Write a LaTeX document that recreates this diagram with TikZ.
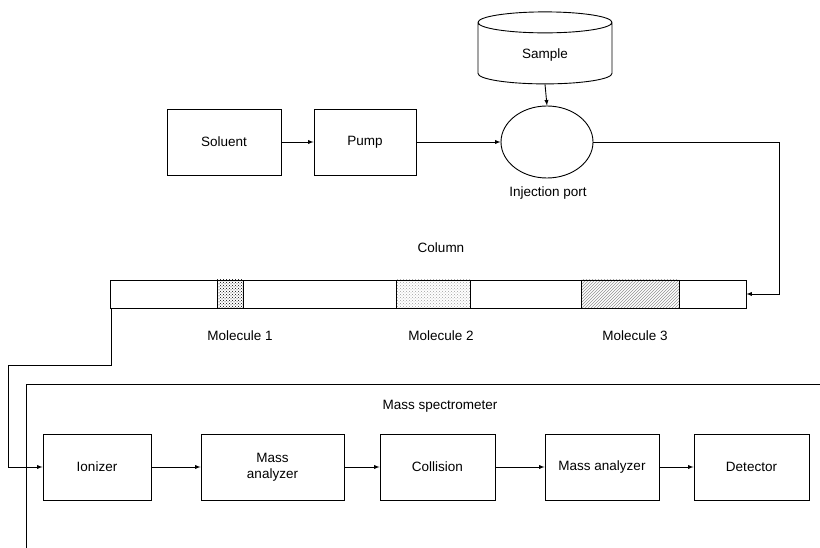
\documentclass[tikz,border=0pt]{standalone}
\usepackage{fontspec}
\setmainfont{Liberation Sans}
\usepackage{tikz}
\usetikzlibrary{shapes.geometric}
\usetikzlibrary{patterns}
\usetikzlibrary{arrows}
\tikzset{>=latex}
\tikzstyle{block} = [draw, rectangle, minimum height=66pt, minimum width=114pt]
\tikzstyle{port} = [draw, ellipse, minimum width=92pt, minimum height=72pt, inner sep=0pt]
\tikzstyle{drum} = [draw, cylinder, shape border rotate=90, aspect=0.4,
    minimum width=134pt, minimum height=72pt]
\tikzstyle{patch} = [draw, rectangle, minimum height=28pt, pattern color=gray]
\tikzstyle{tag} = [inner sep=0pt]

\begin{document}
\begin{tikzpicture}[x=1pt, y=-1pt, line width=0.9pt,
    font=\fontsize{13.5}{16}\selectfont]
    \useasboundingbox (0,0) rectangle (820,548);
    % We start with the supply line
    \node [block, minimum width=114pt] (soluent) at (224,142) {Soluent};
    \node [block, minimum width=102pt] (pump) at (365,142) {Pump};
    \node [port] (inj) at (547,142) {};
    \node [tag] (injlabel) at (548,193) {Injection port};
    \node [drum] (sample) at (545,55) {Sample};

    % The column with the separated molecules
    \node [tag] (collabel) at (441,248) {Column};
    \node [draw, minimum width=636pt, minimum height=28pt] (column) at (428,294) {};
    \node [patch, pattern=crosshatch dots, pattern color=black, minimum width=26pt] (mol1) at (230,294) {};
    \node [patch, pattern=crosshatch dots, pattern color=gray!75, minimum width=74pt] (mol2) at (433,294) {};
    \node [patch, pattern=north east lines, pattern color=gray!85, minimum width=98pt] (mol3) at (630,294) {};
    \node [tag] (mol1label) at (240,336) {Molecule 1};
    \node [tag] (mol2label) at (441,336) {Molecule 2};
    \node [tag] (mol3label) at (635,336) {Molecule 3};

    % The mass spectrometer
    \node [tag] (mslabel) at (440,406) {Mass spectrometer};
    \node [block, minimum width=108pt] (ionizer) at (97,467) {Ionizer};
    \node [block, minimum width=143pt, align=center] (analyzer1) at (272.5,467) {Mass\\analyzer};
    \node [block, minimum width=115pt] (collision) at (437.5,467) {Collision};
    \node [block, minimum width=114pt] (analyzer2) at (602,467) {Mass analyzer};
    \node [block, minimum width=115pt] (detector) at (751.5,467) {Detector};
    \draw (26,548) |- (820,384);

    % Once the nodes are placed, connecting them is easy.
    \draw [->] (soluent) -- (pump);
    \draw [->] (pump) -- (inj);
    \draw [->] (sample.south) -- (inj.north);
    \draw [->] (inj.east) -- ++(186,0) |- (column.east);
    \draw [->] (column.south west) ++(2,0) -- ++(0,57) -- ++(-103,0) |- (ionizer.west);
    \draw [->] (ionizer) -- (analyzer1);
    \draw [->] (analyzer1) -- (collision);
    \draw [->] (collision) -- (analyzer2);
    \draw [->] (analyzer2) -- (detector);
\end{tikzpicture}
\end{document}
